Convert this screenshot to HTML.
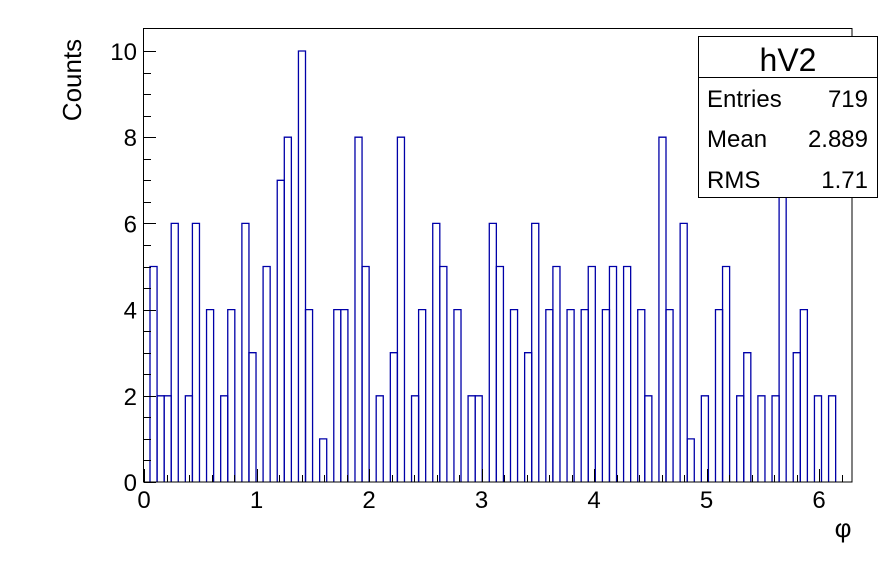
<!DOCTYPE html>
<html><head><meta charset="utf-8"><style>
html,body{margin:0;padding:0;background:#fff;}
svg{display:block;font-family:"Liberation Sans",sans-serif;}
</style></head><body>
<svg id="chart" width="896" height="574" viewBox="0 0 896 574">
<rect x="0" y="0" width="896" height="574" fill="#fff"/>
<g id="bars"></g>
<rect x="143.5" y="28.5" width="708.5" height="453.5" fill="none" stroke="#000" stroke-width="1"/>
<g id="axes"></g>
<text x="81" y="80" font-size="26" text-anchor="middle" transform="rotate(-90 81 80)">Counts</text>
<text x="843" y="537" font-size="26" text-anchor="middle">φ</text>
<g>
<rect x="698.5" y="36.5" width="179" height="161" fill="#fff" stroke="#000" stroke-width="1"/>
<line x1="698.5" y1="77.5" x2="877.5" y2="77.5" stroke="#000"/>
<text x="788" y="71" font-size="32" text-anchor="middle">hV2</text>
<text x="707" y="107" font-size="24">Entries</text>
<text x="868" y="107" font-size="24" text-anchor="end">719</text>
<text x="707" y="147" font-size="24">Mean</text>
<text x="868" y="147" font-size="24" text-anchor="end">2.889</text>
<text x="707" y="188" font-size="24">RMS</text>
<text x="868" y="188" font-size="24" text-anchor="end">1.71</text>
</g>
</svg>
<script>
const binCounts = [5,2,2,6,0,2,6,0,4,0,2,4,0,6,3,0,5,0,7,8,0,10,4,0,1,0,4,4,0,8,5,0,2,0,3,8,0,2,4,0,6,5,0,4,0,2,2,0,6,5,0,4,0,3,6,0,4,5,0,4,0,4,5,0,4,5,0,5,0,4,2,0,8,4,0,6,1,0,2,0,4,5,0,2,3,0,2,0,2,7,0,3,4,0,2,0,2,0,0,0];
const binStart = 0.0533;
const binWidth = 2*Math.PI/100;
const xTickLabels = ["0","1","2","3","4","5","6"];
const yTickLabels = ["0","2","4","6","8","10"];
const NS = "http://www.w3.org/2000/svg";
function xs(v){return 144 + v*112.5;}
function ys(v){return 482 - v*43.1;}
const bars = document.getElementById('bars');
binCounts.forEach((c,i)=>{
  if(c<=0) return;
  const x0 = xs(binStart + i*binWidth), x1 = xs(binStart + (i+1)*binWidth);
  if(x0 > 852) return;
  const p = document.createElementNS(NS,'path');
  p.setAttribute('d', `M${x0} ${ys(0)} L${x0} ${ys(c)} L${x1} ${ys(c)} L${x1} ${ys(0)}`);
  p.setAttribute('fill','none');
  p.setAttribute('stroke','#0000a8');
  p.setAttribute('stroke-width','1.3');
  
  
  bars.appendChild(p);
});
const axes = document.getElementById('axes');
function line(x1,y1,x2,y2,name){
  const l = document.createElementNS(NS,'line');
  l.setAttribute('x1',x1);l.setAttribute('y1',y1);l.setAttribute('x2',x2);l.setAttribute('y2',y2);
  l.setAttribute('stroke','#000');l.setAttribute('stroke-width','1');
  
  
  axes.appendChild(l);
}
function text(x,y,s,anchor,name){
  const t = document.createElementNS(NS,'text');
  t.setAttribute('x',x);t.setAttribute('y',y);t.setAttribute('font-size','24');t.setAttribute('text-anchor',anchor);
  t.textContent = s;
  
  
  axes.appendChild(t);
}
for(let k=0;k<=31;k++){
  const v = k*0.2; const x = Math.round(xs(v))+0.5;
  if(x>852) break;
  const major = k%5===0;
  line(x,482,x,major?469:475,'x-tick');
}
xTickLabels.forEach((s,i)=>text(xs(+s),508,s,'middle','x-tick-label'));
for(let k=0;k<=20;k++){
  const v = k*0.5; const y = Math.round(ys(v))+0.5;
  const major = k%4===0;
  line(144,y,major?156:151,y,'y-tick');
}
yTickLabels.forEach(s=>text(137,ys(+s)+9,s,'end','y-tick-label'));
</script>
</body></html>
